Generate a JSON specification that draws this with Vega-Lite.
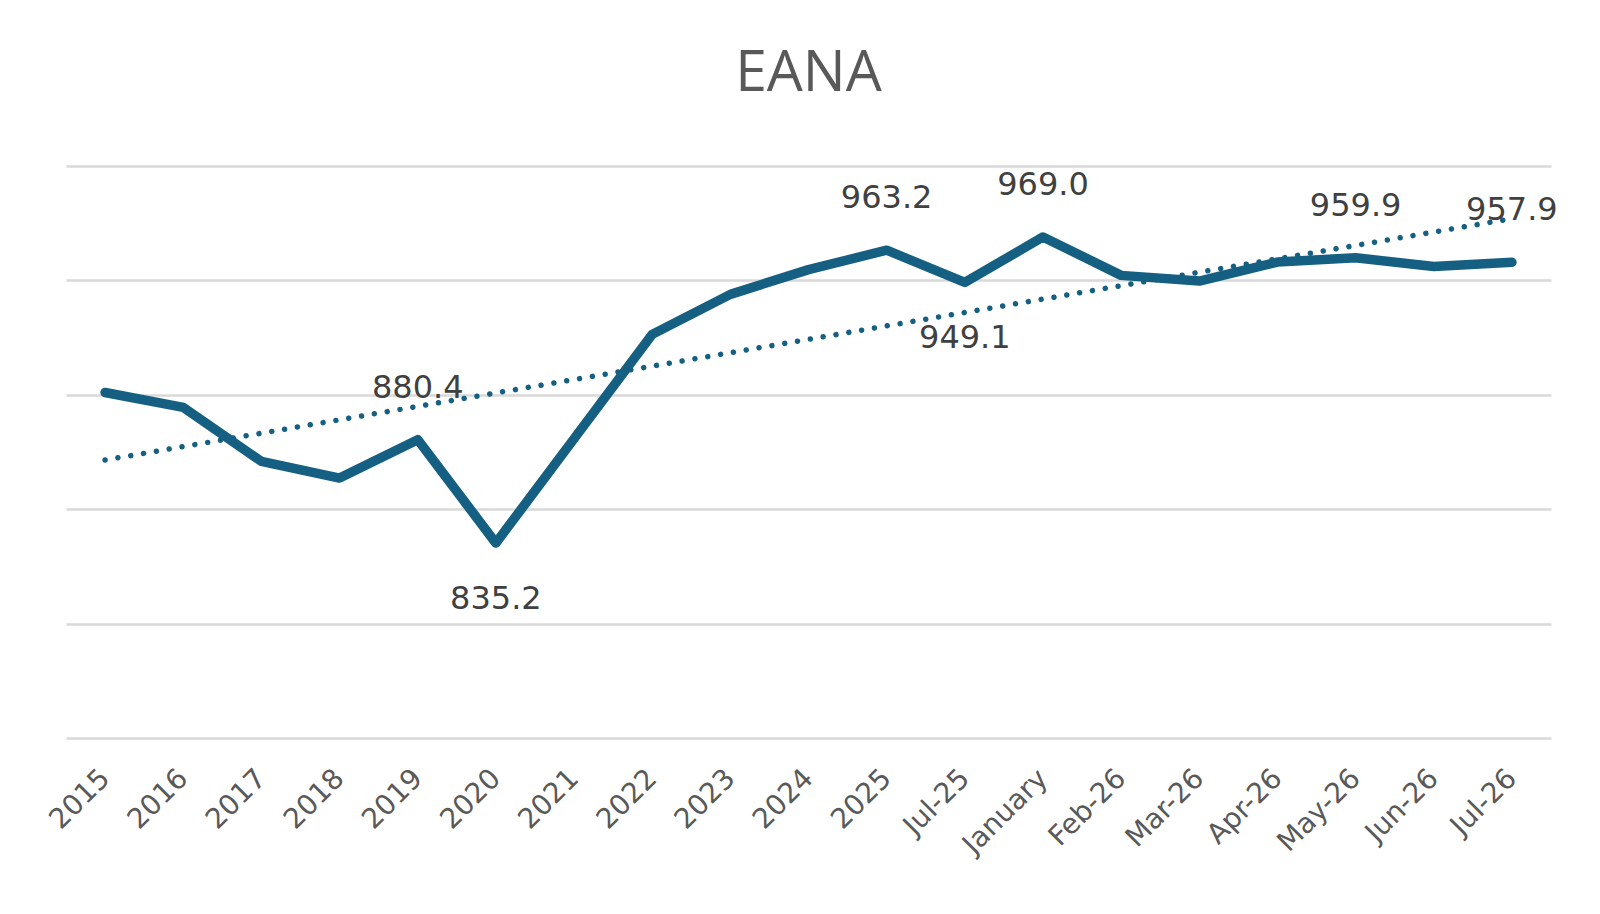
{
  "$schema": "https://vega.github.io/schema/vega-lite/v6.json",
  "width": 1485,
  "height": 572,
  "autosize": {"type": "none"},
  "padding": {"left": 66, "top": 166, "right": 49, "bottom": 176},
  "background": "#ffffff",
  "title": {
    "text": "EANA",
    "font": "Liberation Sans Narrow, Open Sans",
    "fontSize": 57,
    "fontWeight": "normal",
    "color": "#595959",
    "anchor": "middle",
    "baseline": "alphabetic",
    "offset": 73,
    "dy": 55
  },
  "datasets": {
    "eana": [
      {"period": "2015", "value": 901.0},
      {"period": "2016", "value": 894.5},
      {"period": "2017", "value": 870.9},
      {"period": "2018", "value": 863.6},
      {"period": "2019", "value": 880.4},
      {"period": "2020", "value": 835.2},
      {"period": "2021", "value": 880.8},
      {"period": "2022", "value": 926.4},
      {"period": "2023", "value": 943.9},
      {"period": "2024", "value": 954.7},
      {"period": "2025", "value": 963.2},
      {"period": "Jul-25", "value": 949.1},
      {"period": "January", "value": 969.0},
      {"period": "Feb-26", "value": 952.2},
      {"period": "Mar-26", "value": 949.7},
      {"period": "Apr-26", "value": 958.0},
      {"period": "May-26", "value": 959.9},
      {"period": "Jun-26", "value": 956.1},
      {"period": "Jul-26", "value": 957.9}
    ],
    "trend": [
      {"period": "2015", "trend": 871.5},
      {"period": "Jul-26", "trend": 977.0}
    ]
  },
  "layer": [
    {
      "data": {"name": "trend"},
      "mark": {"type": "line", "color": "#156082", "strokeWidth": 5.5, "strokeCap": "round", "strokeDash": [0.01, 13]},
      "encoding": {
        "x": {"field": "period", "type": "nominal"},
        "y": {"field": "trend", "type": "quantitative"}
      }
    },
    {
      "data": {"name": "eana"},
      "mark": {"type": "line", "color": "#156082", "strokeWidth": 9.5, "strokeCap": "round", "strokeJoin": "round"},
      "encoding": {
        "x": {
          "field": "period",
          "type": "nominal",
          "title": null,
          "scale": {
            "type": "point",
            "padding": 0.5,
            "domain": ["2015", "2016", "2017", "2018", "2019", "2020", "2021", "2022", "2023", "2024", "2025", "Jul-25", "January", "Feb-26", "Mar-26", "Apr-26", "May-26", "Jun-26", "Jul-26"]
          },
          "axis": {
            "labelAngle": -45,
            "labelFont": "DejaVu Sans",
            "labelFontSize": 28,
            "labelColor": "#595959",
            "labelPadding": 36,
            "ticks": false,
            "domain": false,
            "grid": false
          }
        },
        "y": {
          "field": "value",
          "type": "quantitative",
          "title": null,
          "scale": {"domain": [750, 1000], "nice": false, "zero": false},
          "axis": {
            "values": [750, 800, 850, 900, 950, 1000],
            "labels": false,
            "ticks": false,
            "domain": false,
            "grid": true,
            "gridColor": "#d9d9d9",
            "gridWidth": 2.5
          }
        }
      }
    },
    {
      "data": {"name": "eana"},
      "transform": [{"filter": {"field": "period", "oneOf": ["2019", "2025", "January", "May-26", "Jul-26"]}}],
      "mark": {"type": "text", "font": "DejaVu Sans", "fontSize": 32, "color": "#404040", "baseline": "alphabetic", "dy": -42},
      "encoding": {
        "x": {"field": "period", "type": "nominal"},
        "y": {"field": "value", "type": "quantitative"},
        "text": {"field": "value", "type": "quantitative", "format": ".1f"}
      }
    },
    {
      "data": {"name": "eana"},
      "transform": [{"filter": {"field": "period", "oneOf": ["2020", "Jul-25"]}}],
      "mark": {"type": "text", "font": "DejaVu Sans", "fontSize": 32, "color": "#404040", "baseline": "alphabetic", "dy": 66},
      "encoding": {
        "x": {"field": "period", "type": "nominal"},
        "y": {"field": "value", "type": "quantitative"},
        "text": {"field": "value", "type": "quantitative", "format": ".1f"}
      }
    }
  ],
  "config": {"view": {"stroke": null}}
}
